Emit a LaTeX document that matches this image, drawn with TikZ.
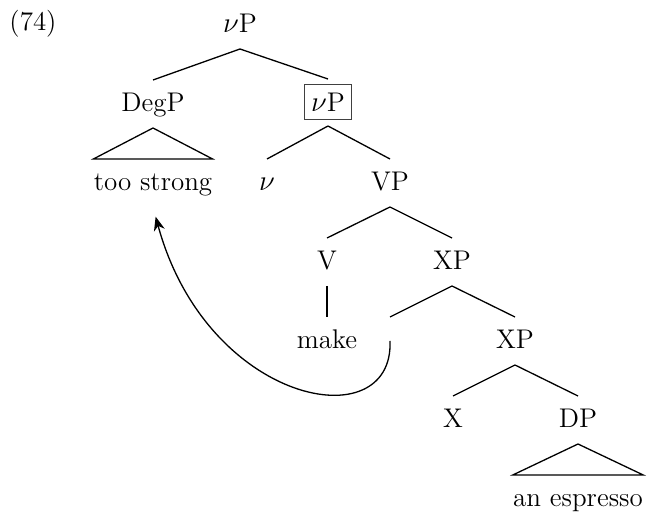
\documentclass[tikz,border=0pt]{standalone}
\usepackage{amsmath, amssymb}
\usetikzlibrary{arrows.meta}

\begin{document}
\begin{tikzpicture}[
  x=0.5pt, y=-0.5pt,
  cat/.style={anchor=base, inner xsep=0pt, inner ysep=0pt, text height=12pt, text depth=4pt, outer ysep=4pt, font=\fontsize{13.5}{16}\selectfont},
  boxed/.style={cat, draw=black!75, line width=0.5pt, inner xsep=3.5pt, inner ysep=1.5pt, text depth=2.5pt, outer ysep=3pt},
  branch/.style={line width=0.65pt},
  moveline/.style={-{Stealth[length=7pt,width=5.5pt,inset=2.2pt]}, line width=0.65pt, shorten >=5pt}
]
\useasboundingbox (0,0) rectangle (648,517);

\node[cat] (num) at (33,31) {(74)};
\node[cat] (vp) at (240,33) {$\nu$P};
\node[cat] (degp) at (153,112) {DegP};
\node[boxed] (vpb) at (328,112) {$\nu$P};
\node[cat] (too) at (153,191) {too strong};
\node[cat] (lightv) at (267,191) {$\nu$};
\node[cat] (vphr) at (390,191) {VP};
\node[cat] (verb) at (327,270) {V};
\node[cat] (xp) at (452,270) {XP};
\node[cat] (make) at (327,349) {make};
\node[cat] (gap) at (390,349) {};
\node[cat] (xplow) at (515,349) {XP};
\node[cat] (xhead) at (453,428) {X};
\node[cat] (dp) at (578,428) {DP};
\node[cat] (esp) at (578,507) {an espresso};

\draw[branch] (vp.south) -- (degp.north);
\draw[branch] (vp.south) -- (vpb.north);
\draw[branch] (degp.south) -- (too.north west) -- (too.north east) -- cycle;
\draw[branch] (vpb.south) -- (lightv.north);
\draw[branch] (vpb.south) -- (vphr.north);
\draw[branch] (vphr.south) -- (verb.north);
\draw[branch] (vphr.south) -- (xp.north);
\draw[branch] (verb.south) -- (make.north);
\draw[branch] (xp.south) -- (gap.north);
\draw[branch] (xp.south) -- (xplow.north);
\draw[branch] (xplow.south) -- (xhead.north);
\draw[branch] (xplow.south) -- (dp.north);
\draw[branch] (dp.south) -- (esp.north west) -- (esp.north east) -- cycle;

\draw[moveline] (gap.center) .. controls +(4,99) and +(54,198) .. (too.south);
\end{tikzpicture}
\end{document}
